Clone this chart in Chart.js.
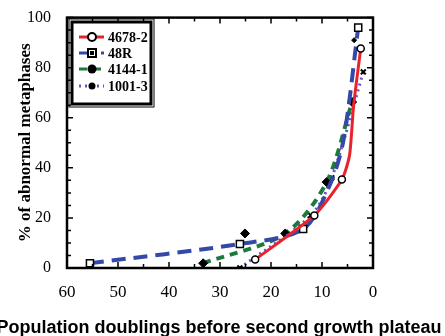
<!DOCTYPE html>
<html>
<head>
<meta charset="utf-8">
<script src="https://cdn.jsdelivr.net/npm/chart.js@4/dist/chart.umd.min.js"></script>
<style>
  html, body { margin: 0; padding: 0; background: #fff; }
  #wrap { width: 445px; height: 336px; }
</style>
</head>
<body>
<div id="wrap"><canvas id="mainChart" width="445" height="336"></canvas></div>
<script>
// values: population doublings left (x) vs % abnormal metaphases (y)
var labels4678 = '4678-2';
var x4678 = [23.1, 11.5, 6.1, 4.6, 3.8, 2.4];
var y4678 = [3.4, 21, 35.3, 45, 65, 87.7];
var r4678 = [3.5, 3.5, 3.5, 0, 0, 3.5];

var labels48R = '48R';
var x48R = [55.5, 26.1, 13.7, 8.5, 5.8, 2.9];
var y48R = [1.9, 9.6, 15.6, 33, 51, 96];
var r48R = [5, 5, 5, 0, 0, 5];

var labels4144 = '4144-1';
var x4144 = [33.3, 17.2, 9.1, 4.1];
var y4144 = [1.9, 13.8, 34.3, 66.3];

var labels1001 = '1001-3';
var x1001 = [26.1, 12.2, 8.1, 1.9];
var y1001 = [0, 21, 36, 78.3];

// stray markers without a line
var xLone = [25.1, 3.7];
var yLone = [13.8, 91];

var xTicks = [60, 50, 40, 30, 20, 10, 0];
var yTicks = [0, 20, 40, 60, 80, 100];
var xTitle = 'Population doublings before second growth plateau';

function pts(xs, ys) {
    return xs.map(function (x, i) { return {x: x, y: ys[i]}; });
}

// inward ticks + frame on all four sides
var framePlugin = {
    id: 'frame',
    afterDatasetsDraw: function (chart) {
        var ctx = chart.ctx, a = chart.chartArea;
        var xs = chart.scales.x, ys = chart.scales.y;
        ctx.save();
        ctx.strokeStyle = '#000';
        ctx.lineWidth = 1.5;
        for (var v = 0; v <= 60; v += 5) {
            var px = xs.getPixelForValue(v);
            var len = v % 10 === 0 ? 6 : 4;
            ctx.beginPath();
            ctx.moveTo(px, a.bottom); ctx.lineTo(px, a.bottom - len);
            ctx.moveTo(px, a.top); ctx.lineTo(px, a.top + len);
            ctx.stroke();
        }
        for (var w = 0; w <= 100; w += 5) {
            var py = ys.getPixelForValue(w);
            var l2 = w % 20 === 0 ? 6 : 4;
            ctx.beginPath();
            ctx.moveTo(a.left, py); ctx.lineTo(a.left + l2, py);
            ctx.moveTo(a.right, py); ctx.lineTo(a.right - l2, py);
            ctx.stroke();
        }
        ctx.lineWidth = 2.5;
        ctx.strokeRect(a.left, a.top, a.right - a.left, a.bottom - a.top);
        ctx.restore();
    }
};

// x title drawn by hand so it is not squeezed to the plot width
var xTitlePlugin = {
    id: 'xTitle',
    afterDraw: function (chart) {
        var ctx = chart.ctx, a = chart.chartArea;
        ctx.save();
        ctx.fillStyle = '#000';
        ctx.font = 'bold 18px "Liberation Sans", Arial, sans-serif';
        ctx.textAlign = 'center';
        ctx.textBaseline = 'alphabetic';
        ctx.fillText(xTitle, (a.left + a.right) / 2 - 1, 333);
        ctx.restore();
    }
};

// legend box in the upper left of the plot
var legendPlugin = {
    id: 'boxLegend',
    afterDraw: function (chart) {
        var ctx = chart.ctx;
        var bx = 72, by = 22, bw = 79, bh = 82;
        ctx.save();
        ctx.fillStyle = '#fff';
        ctx.fillRect(bx, by, bw, bh);
        ctx.strokeStyle = '#000';
        ctx.lineWidth = 3;
        ctx.strokeRect(bx, by, bw, bh);
        ctx.lineWidth = 1;
        ctx.strokeRect(bx - 3, by - 3, bw + 6, bh + 6);
        var rows = [37, 53, 69, 86];
        var marks = ['openCircle', 'openSquare', 'bigDot', 'dot'];
        for (var i = 0; i < 4; i++) {
            var ds = chart.data.datasets[i];
            var y = rows[i];
            ctx.strokeStyle = ds.borderColor;
            ctx.lineWidth = 3;
            ctx.setLineDash(ds.borderDash || []);
            ctx.beginPath();
            ctx.moveTo(79, y); ctx.lineTo(104, y);
            ctx.stroke();
            ctx.setLineDash([]);
            ctx.lineWidth = 2;
            ctx.strokeStyle = '#000';
            ctx.fillStyle = '#000';
            if (marks[i] === 'openCircle') {
                ctx.fillStyle = '#fff';
                ctx.beginPath(); ctx.arc(92, y, 4, 0, Math.PI * 2); ctx.fill(); ctx.stroke();
            } else if (marks[i] === 'openSquare') {
                ctx.fillStyle = '#fff';
                ctx.fillRect(88, y - 4, 8, 8);
                ctx.strokeRect(88, y - 4, 8, 8);
                ctx.fillStyle = '#000';
                ctx.fillRect(90, y - 2, 4, 4);
            } else if (marks[i] === 'bigDot') {
                ctx.beginPath(); ctx.arc(92, y, 4.5, 0, Math.PI * 2); ctx.fill();
            } else {
                ctx.beginPath(); ctx.arc(92, y, 3.5, 0, Math.PI * 2); ctx.fill();
            }
            ctx.fillStyle = '#000';
            ctx.font = 'bold 14px "Liberation Serif", serif';
            ctx.textBaseline = 'middle';
            ctx.fillText(ds.label, 108, y + 1);
        }
        ctx.restore();
    }
};

var ch = document.getElementById('mainChart').getContext('2d');
var mainChart = new Chart(ch, {
    type: 'line',
    data: {
        datasets: [{
            label: labels4678,
            data: pts(x4678, y4678),
            borderColor: '#e8232b',
            borderWidth: 3,
            tension: 0.2,
            pointStyle: 'circle',
            pointRadius: r4678,
            pointBackgroundColor: '#fff',
            pointBorderColor: '#000',
            pointBorderWidth: 1.5
        }, {
            label: labels48R,
            data: pts(x48R, y48R),
            borderColor: '#3448a8',
            borderWidth: 4,
            borderDash: [14, 8],
            tension: 0.3,
            pointStyle: 'rect',
            pointRadius: r48R,
            pointBackgroundColor: '#fff',
            pointBorderColor: '#000',
            pointBorderWidth: 1.5
        }, {
            label: labels4144,
            data: pts(x4144, y4144),
            borderColor: '#1e7a3c',
            borderWidth: 4,
            borderDash: [8, 6],
            tension: 0.3,
            pointStyle: 'rectRot',
            pointRadius: 4.5,
            pointBackgroundColor: '#000',
            pointBorderColor: '#000',
            pointBorderWidth: 1
        }, {
            label: labels1001,
            data: pts(x1001, y1001),
            borderColor: '#6a4fc8',
            borderWidth: 3,
            borderDash: [2, 4],
            tension: 0.3,
            pointStyle: 'crossRot',
            pointRadius: 3.5,
            pointBackgroundColor: '#000',
            pointBorderColor: '#000',
            pointBorderWidth: 2
        }, {
            label: '',
            data: pts(xLone, yLone),
            showLine: false,
            pointStyle: 'rectRot',
            pointRadius: [4.5, 2.5],
            pointBackgroundColor: '#000',
            pointBorderColor: '#000'
        }]
    },
    options: {
        responsive: false,
        animation: false,
        layout: { padding: { top: 15, right: 72, left: 0, bottom: 0 } },
        plugins: { legend: { display: false }, tooltip: { enabled: false } },
        scales: {
            x: {
                type: 'linear',
                reverse: true,
                min: 0,
                max: 60,
                grid: { display: false },
                border: { display: false },
                afterFit: function (s) { s.height = 68; },
                afterBuildTicks: function (s) { s.ticks = xTicks.map(function (v) { return {value: v}; }); },
                ticks: { color: '#000', padding: 6, maxRotation: 0, font: { family: '"Liberation Serif", serif', size: 17 } }
            },
            y: {
                min: 0,
                max: 100,
                grid: { display: false },
                border: { display: false },
                afterFit: function (s) { s.width = 67; },
                afterBuildTicks: function (s) { s.ticks = yTicks.map(function (v) { return {value: v}; }); },
                ticks: { color: '#000', padding: 8, font: { family: '"Liberation Serif", serif', size: 16 } },
                title: {
                    display: true,
                    text: '% of abnormal metaphases',
                    color: '#000',
                    padding: { top: 17, bottom: 0 },
                    font: { family: '"Liberation Serif", serif', size: 17, weight: 'bold', lineHeight: 1 }
                }
            }
        }
    },
    plugins: [framePlugin, xTitlePlugin, legendPlugin]
});
</script>
</body>
</html>
